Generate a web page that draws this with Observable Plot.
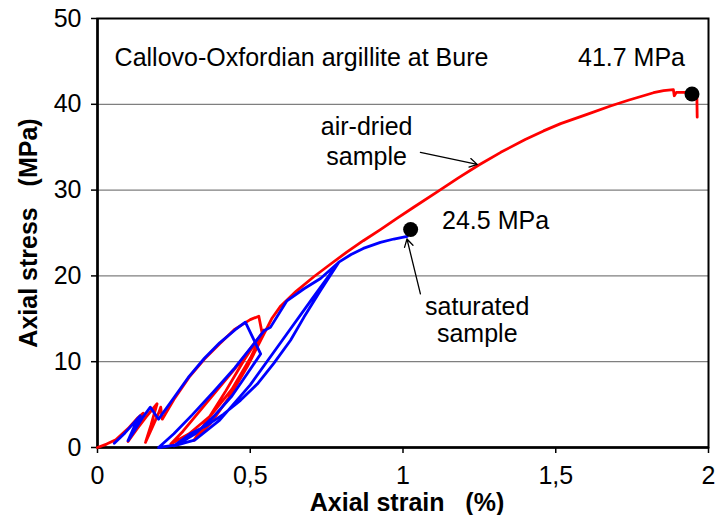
<!DOCTYPE html>
<html><head><meta charset="utf-8">
<script src="https://cdn.jsdelivr.net/npm/d3@7"></script>
<script src="https://cdn.jsdelivr.net/npm/@observablehq/plot@0.6"></script>
<style>body{margin:0;background:#fff}</style>
</head><body><div id="chart"></div>
<script>
// air-dried sample (red) path, strain % and stress MPa
const airX = [0, 0.03, 0.06, 0.1, 0.13, 0.15, 0.12, 0.1, 0.13, 0.16, 0.195, 0.175, 0.157, 0.18, 0.2, 0.207, 0.212, 0.25, 0.3, 0.35, 0.4, 0.45, 0.5, 0.528, 0.539, 0.45, 0.35, 0.28, 0.24, 0.3, 0.37, 0.44, 0.5, 0.545, 0.48, 0.42, 0.36, 0.315, 0.37, 0.43, 0.49, 0.54, 0.57, 0.6, 0.65, 0.708, 0.76, 0.817, 0.87, 0.926, 0.98, 1.035, 1.112, 1.18, 1.247, 1.32, 1.4, 1.46, 1.516, 1.6, 1.679, 1.74, 1.787, 1.82, 1.853, 1.885, 1.888, 1.895, 1.92, 1.955, 1.962, 1.963];
const airY = [0, 0.4, 0.9, 2.2, 3.4, 4.0, 1.8, 0.7, 2.2, 3.6, 5.1, 2.6, 0.6, 2.4, 4.0, 4.7, 3.3, 5.6, 8.2, 10.3, 12.1, 13.8, 14.9, 15.3, 13.3, 9.2, 4.9, 1.9, 0.4, 1.6, 3.7, 6.8, 10.4, 13.7, 10.2, 6.6, 3.2, 0.8, 2.8, 5.8, 9.4, 12.9, 15.0, 16.5, 18.2, 19.9, 21.3, 22.8, 24.1, 25.4, 26.7, 28.0, 29.8, 31.4, 32.9, 34.4, 35.9, 36.9, 37.75, 38.8, 39.8, 40.5, 41.0, 41.35, 41.6, 41.7, 41.0, 41.4, 41.4, 41.3, 40.8, 38.5];
// saturated sample (blue) path
const satX = [0.055, 0.09, 0.12, 0.14, 0.12, 0.1, 0.12, 0.15, 0.173, 0.2, 0.25, 0.3, 0.35, 0.4, 0.45, 0.484, 0.534, 0.49, 0.44, 0.38, 0.32, 0.26, 0.2, 0.25, 0.31, 0.38, 0.45, 0.51, 0.545, 0.566, 0.62, 0.676, 0.73, 0.79, 0.7, 0.605, 0.5, 0.4, 0.32, 0.25, 0.304, 0.359, 0.413, 0.468, 0.523, 0.577, 0.632, 0.676, 0.73, 0.79, 0.83, 0.87, 0.926, 0.97, 1.014];
const satY = [0.5, 1.7, 2.9, 3.7, 2.4, 0.8, 1.9, 3.6, 4.7, 3.3, 5.8, 8.3, 10.4, 12.2, 13.7, 14.6, 10.9, 8.6, 6.0, 3.6, 1.6, 0.3, 0.0, 1.6, 3.8, 6.5, 9.3, 12.0, 13.6, 14.0, 17.1, 18.5, 19.7, 21.6, 17.2, 12.5, 7.3, 3.2, 0.9, 0.2, 1.6, 2.6, 3.9, 5.5, 7.4, 9.8, 12.5, 15.2, 18.3, 21.6, 22.5, 23.2, 23.9, 24.3, 24.6];
// failure points
const peakX = [1.025, 1.946];
const peakY = [25.4, 41.2];
// ticks
const xTicks = [0, 0.5, 1, 1.5, 2];
const yTicks = [0, 10, 20, 30, 40, 50];
// annotations
const noteText = ["Callovo-Oxfordian argillite at Bure", "41.7 MPa", "air-dried", "sample", "24.5 MPa", "saturated", "sample"];
const noteX = [0.056, 1.748, 0.881, 0.881, 1.303, 1.243, 1.243];
const noteY = [45.4, 45.4, 37.3, 33.9, 26.4, 16.35, 13.25];
const noteAnchor = ["start", "middle", "middle", "middle", "middle", "middle", "middle"];
const arrowX1 = [1.057, 1.057], arrowY1 = [34.4, 17.9];
const arrowX2 = [1.243, 1.013], arrowY2 = [33.0, 24.3];

const air = airX.map((x, i) => ({x, y: airY[i]}));
const sat = satX.map((x, i) => ({x, y: satY[i]}));
const peaks = peakX.map((x, i) => ({x, y: peakY[i]}));
const notes = noteText.map((t, i) => ({t, x: noteX[i], y: noteY[i], a: noteAnchor[i]}));
const arrows = arrowX1.map((x1, i) => ({x1, y1: arrowY1[i], x2: arrowX2[i], y2: arrowY2[i]}));
const fmt = d => String(d).replace(".", ",");

const chart = Plot.plot({
  width: 717, height: 515,
  marginLeft: 97, marginRight: 9, marginTop: 18, marginBottom: 68,
  x: {domain: [0, 2]},
  y: {domain: [0, 50]},
  style: {fontFamily: "'Liberation Sans', Arial, sans-serif", fontSize: "25px", background: "white", color: "black"},
  marks: [
    Plot.gridY(yTicks.filter(d => d > 0 && d < 50), {stroke: "#7f7f7f", strokeOpacity: 1, strokeWidth: 1.3}),
    Plot.frame({stroke: "black", strokeWidth: 2}),
    Plot.ruleX([0], {stroke: "black", strokeWidth: 2.5}),
    Plot.ruleY([0], {stroke: "black", strokeWidth: 2.5}),
    Plot.axisX(xTicks, {tickSize: 6, tickPadding: 13, tickFormat: fmt, label: null, strokeWidth: 1.5}),
    Plot.axisY(yTicks, {tickSize: 6, tickPadding: 10, label: null, strokeWidth: 1.5}),
    Plot.line(air, {x: "x", y: "y", stroke: "#ff0000", strokeWidth: 2.8, strokeLinejoin: "round"}),
    Plot.line(sat, {x: "x", y: "y", stroke: "#0000ff", strokeWidth: 2.8, strokeLinejoin: "round"}),
    Plot.dot(peaks, {x: "x", y: "y", r: 7.5, fill: "black"}),
    Plot.arrow(arrows, {x1: "x1", y1: "y1", x2: "x2", y2: "y2", stroke: "black", strokeWidth: 1.3, headLength: 10}),
    Plot.text(notes.filter(d => d.a === "start"), {x: "x", y: "y", text: "t", textAnchor: "start", lineAnchor: "middle"}),
    Plot.text(notes.filter(d => d.a === "middle"), {x: "x", y: "y", text: "t", textAnchor: "middle", lineAnchor: "middle"}),
    Plot.text(["Axial stress\u00a0\u00a0\u00a0(MPa)"], {frameAnchor: "left", rotate: -90, dx: -69, fontWeight: "bold", textAnchor: "middle", lineAnchor: "middle"}),
    Plot.text(["Axial strain\u00a0\u00a0\u00a0(%)"], {frameAnchor: "bottom", dx: 4, dy: 55, fontWeight: "bold", textAnchor: "middle", lineAnchor: "middle"})
  ]
});
document.getElementById("chart").appendChild(chart);
</script>
</body></html>
